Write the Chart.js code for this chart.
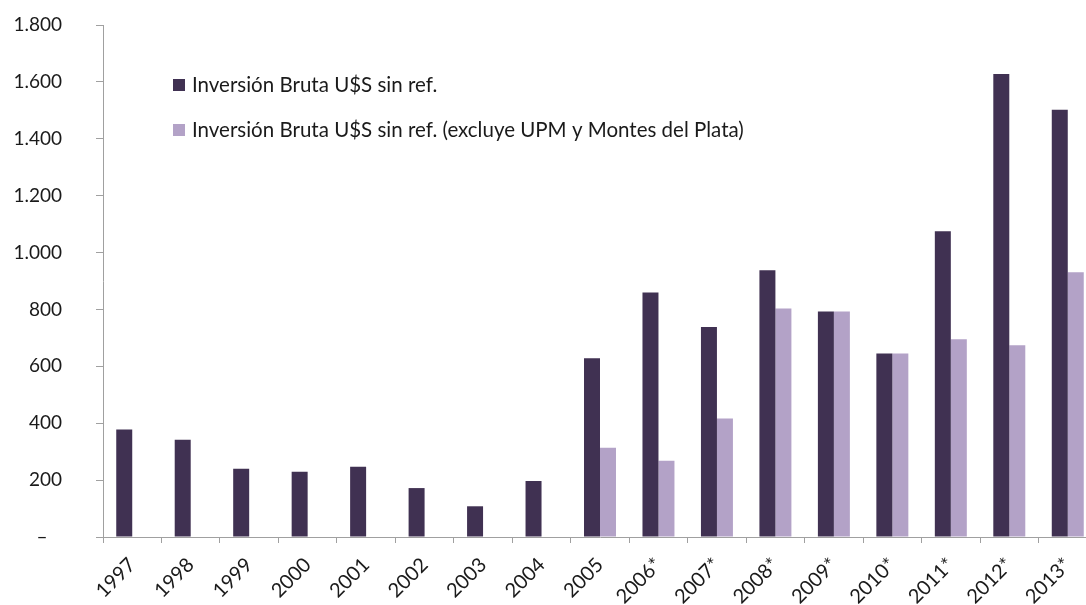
<!DOCTYPE html>
<html>
<head>
<meta charset="utf-8">
<script src="https://cdn.jsdelivr.net/npm/chart.js@4"></script>
<style>
  html, body { margin: 0; padding: 0; background: #fff; overflow: hidden; }
  #wrap { width: 1100px; height: 605px; }
</style>
</head>
<body>
<div id="wrap"><canvas id="invChart" width="1100" height="605"></canvas></div>
<script>
// --- Data ---
const years = ['1997', '1998', '1999', '2000', '2001', '2002', '2003', '2004', '2005',
    '2006*', '2007*', '2008*', '2009*', '2010*', '2011*', '2012*', '2013*'];
const inversionBruta = [378, 342, 240, 229, 247, 172, 108, 197, 628,
    860, 738, 938, 793, 645, 1075, 1628, 1502];
const inversionSinUPM = [null, null, null, null, null, null, null, null, 314,
    268, 417, 803, 793, 645, 695, 674, 931];
const seriesLabels = ['Inversión Bruta U$S sin ref.',
    'Inversión Bruta U$S sin ref. (excluye UPM y Montes del Plata)'];
const yTicks = [0, 200, 400, 600, 800, 1000, 1200, 1400, 1600, 1800];

const DARK = '#403152';
const LIGHT = '#b3a2c7';
const FONT = 'Lato, "Open Sans", sans-serif';

// thousands with a dot, zero as a dash
function fmtTick(v) {
    if (v === 0) return '–   ';
    return String(v).replace(/\B(?=(\d{3})+(?!\d))/g, '.');
}

// --- Legend drawn inside the plot, top-left ---
const innerLegend = {
    id: 'innerLegend',
    afterDraw(chart) {
        const ctx = chart.ctx;
        ctx.save();
        ctx.font = '20.5px ' + FONT;
        ctx.textBaseline = 'middle';
        chart.data.datasets.forEach((ds, i) => {
            const y = 85 + i * 45;
            ctx.fillStyle = ds.backgroundColor;
            ctx.fillRect(173, y - 6, 12, 12);
            ctx.fillStyle = '#1a1a1a';
            ctx.fillText(ds.label, 192, y);
        });
        ctx.restore();
    }
};

const ctx = document.getElementById('invChart').getContext('2d');
new Chart(ctx, {
    type: 'bar',
    data: {
        labels: years,
        datasets: [
            { label: seriesLabels[0], data: inversionBruta, backgroundColor: DARK },
            { label: seriesLabels[1], data: inversionSinUPM, backgroundColor: LIGHT }
        ]
    },
    options: {
        responsive: false,
        animation: false,
        layout: { padding: { top: 25, right: 3, left: 0, bottom: 0 } },
        datasets: {
            bar: { categoryPercentage: 0.547, barPercentage: 1, borderWidth: 0 }
        },
        plugins: {
            legend: { display: false },
            tooltip: { enabled: false }
        },
        scales: {
            x: {
                grid: { drawOnChartArea: false, color: '#a0a0a0', tickLength: 6, offset: true },
                border: { color: '#a0a0a0', width: 1 },
                ticks: {
                    autoSkip: false,
                    minRotation: 45,
                    maxRotation: 45,
                    padding: 10,
                    color: '#1a1a1a',
                    font: { family: FONT, size: 20 }
                },
                afterFit: function(scale) { scale.height = 68; }
            },
            y: {
                min: 0,
                max: 1800,
                grid: { drawOnChartArea: false, color: '#a0a0a0', tickLength: 7 },
                border: { color: '#a0a0a0', width: 1 },
                afterBuildTicks: function(scale) {
                    scale.ticks = yTicks.map(v => ({ value: v }));
                },
                ticks: {
                    padding: 34,
                    color: '#1a1a1a',
                    font: { family: FONT, size: 19 },
                    callback: function(value) { return fmtTick(value); }
                },
                afterFit: function(scale) {
                    scale.width = 103;
                    // tick padding would otherwise push the plot top down
                    scale.paddingTop = 10;
                    scale.paddingBottom = 10;
                }
            }
        }
    },
    plugins: [innerLegend]
});
</script>
</body>
</html>
